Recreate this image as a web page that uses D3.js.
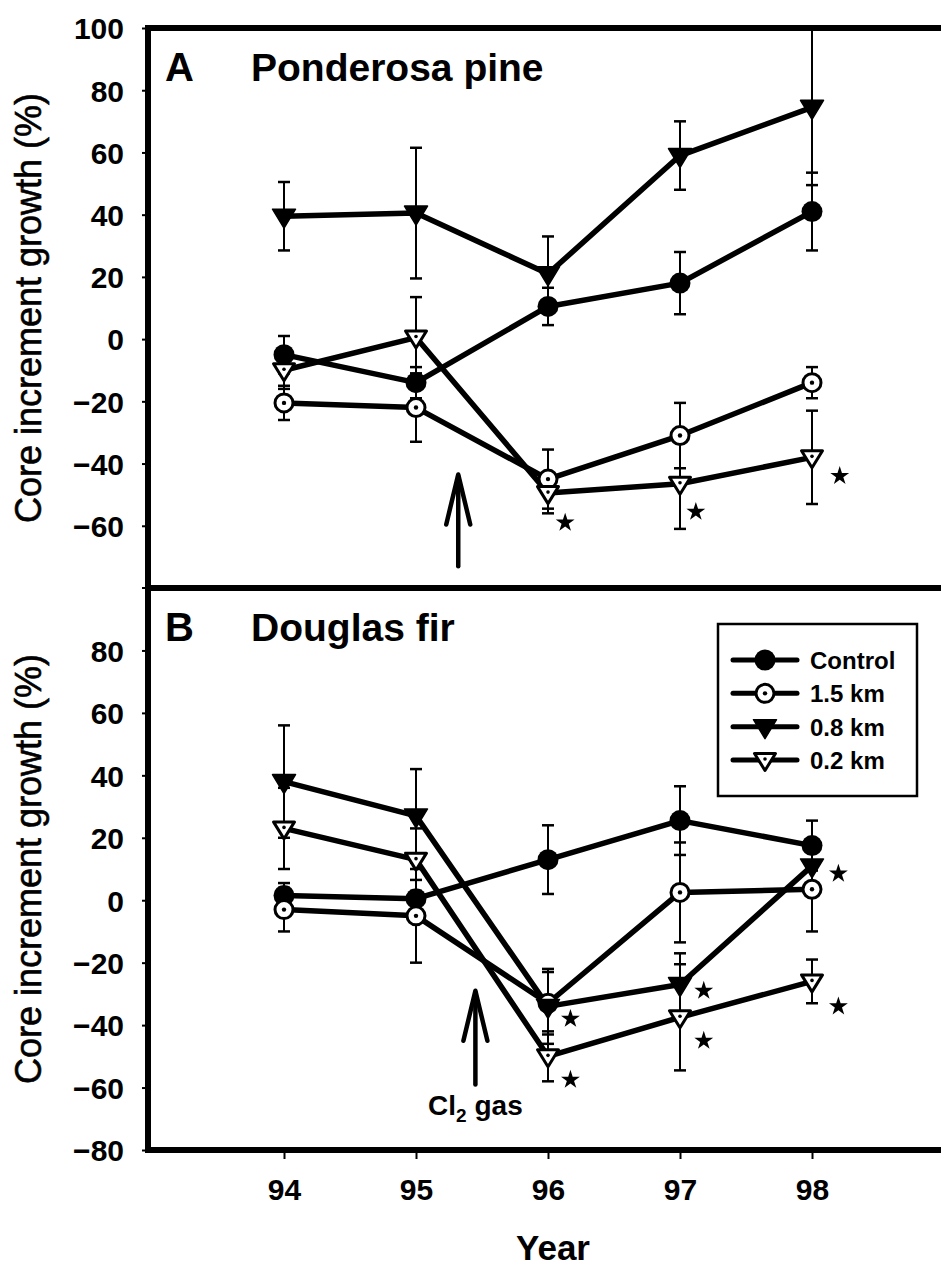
<!DOCTYPE html>
<html>
<head>
<meta charset="utf-8">
<script src="https://cdn.jsdelivr.net/npm/d3@7"></script>
<style>
  html, body { margin: 0; padding: 0; background: #fff; }
  svg { display: block; }
  text { font-family: "Liberation Sans", Arial, sans-serif; fill: #000; }
</style>
</head>
<body>
<svg id="chart" width="941" height="1271"></svg>
<script>
// ---- data ----------------------------------------------------------------
const years = [94, 95, 96, 97, 98];
const seriesNames = ["Control", "1.5 km", "0.8 km", "0.2 km"];
const yTicksA = [100, 80, 60, 40, 20, 0, -20, -40, -60];
const yTicksB = [80, 60, 40, 20, 0, -20, -40, -60, -80];

// Ponderosa pine (panel A): means and error half-widths
const pineControl    = [-5, -14, 10.5, 18, 41];
const pineControlErr = [6, 5, 6, 10, 12.5];
const pine15         = [-20.5, -22, -45, -31, -14];
const pine15Err      = [5.5, 11, 9.5, 10.5, 5];
const pine08         = [39.5, 40.5, 21, 59, 74.5];
const pine08Err      = [11, 21, 12, 11, 25];
const pine02         = [-10, 0.5, -49.5, -46.5, -38];
const pine02Err      = [6, 13, 6.5, 14.5, 15];
// significance marks (year position, value)
const pineStarYear   = [96.13, 97.12, 98.21];
const pineStarValue  = [-59, -55.5, -44];

// Douglas fir (panel B)
const firControl    = [1.5, 0.5, 13, 25.5, 17.5];
const firControlErr = [4, 6, 11, 11, 8];
const fir15         = [-3, -5, -33, 2.5, 3.5];
const fir15Err      = [7, 15, 10, 16, 13.5];
const fir08         = [38, 27, -34, -27, 11];
const fir08Err      = [18, 15, 12, 10, 8];
const fir02         = [23, 13, -50, -37.5, -26];
const fir02Err      = [13, 10, 8, 17, 7];
const firStarYear   = [96.17, 96.17, 97.18, 97.18, 98.2, 98.2];
const firStarValue  = [-38, -57.5, -29, -45, 8.5, -34];

// Cl2 release arrows: year position, value of tip and tail
const arrowYear = [95.32, 95.45];
const arrowTip  = [-43.5, -29];
const arrowTail = [-73, -59];

// ---- layout ----------------------------------------------------------------
const svg = d3.select("#chart");
const frameLeft = 148, frameRight = 946;
const x = d3.scaleLinear().domain([94, 98]).range([284, 812]);
const yA = d3.scaleLinear().domain([-80, 100]).range([588, 28]);
const yB = d3.scaleLinear().domain([-80, 100]).range([1150, 588]);

const markerTypes = ["filledCircle", "openCircle", "filledTri", "openTri"];

function drawMarker(g, type, cx, cy) {
  if (type === "filledCircle") {
    g.append("circle").attr("cx", cx).attr("cy", cy).attr("r", 10.5).attr("fill", "#000");
  } else if (type === "openCircle") {
    g.append("circle").attr("cx", cx).attr("cy", cy).attr("r", 9)
      .attr("fill", "#fff").attr("stroke", "#000").attr("stroke-width", 3);
    g.append("circle").attr("cx", cx).attr("cy", cy).attr("r", 2.2).attr("fill", "#000");
  } else if (type === "filledTri") {
    g.append("path")
      .attr("d", `M${cx - 11.5},${cy - 7}L${cx + 11.5},${cy - 7}L${cx},${cy + 12}Z`)
      .attr("fill", "#000").attr("stroke", "#000").attr("stroke-width", 1.5)
      .attr("stroke-linejoin", "round");
  } else {
    g.append("path")
      .attr("d", `M${cx - 10.5},${cy - 6.5}L${cx + 10.5},${cy - 6.5}L${cx},${cy + 10.5}Z`)
      .attr("fill", "#fff").attr("stroke", "#000").attr("stroke-width", 3)
      .attr("stroke-linejoin", "round");
    g.append("circle").attr("cx", cx).attr("cy", cy - 1).attr("r", 1.8).attr("fill", "#000");
  }
}

function drawPanel(opts) {
  const { y, series, errs, starYear, starValue, ticks, letter, title, top, bottom, showBottomTick } = opts;
  const g = svg.append("g");

  // axis ticks and labels
  const axis = d3.axisLeft(y).tickValues(ticks).tickSize(6).tickPadding(18)
    .tickFormat(d3.format("d"));
  const ag = g.append("g").attr("transform", `translate(${frameLeft},0)`).call(axis);
  ag.select(".domain").remove();
  ag.selectAll(".tick line").attr("stroke", "#000").attr("stroke-width", 2);
  ag.selectAll(".tick text").attr("font-size", 30).attr("font-weight", "bold")
    .attr("dy", "0.36em").style("font-family", '"Liberation Sans", Arial, sans-serif');
  // extra tick at the panel floor
  if (showBottomTick) {
    g.append("line").attr("x1", frameLeft - 6).attr("x2", frameLeft)
      .attr("y1", y(-80)).attr("y2", y(-80)).attr("stroke", "#000").attr("stroke-width", 2);
  }

  // series lines
  const line = d3.line().x((d, i) => x(years[i])).y(d => y(d));
  series.forEach(s => {
    g.append("path").datum(s).attr("d", line)
      .attr("fill", "none").attr("stroke", "#000").attr("stroke-width", 5.5)
      .attr("stroke-linejoin", "round");
  });

  // error bars
  series.forEach((s, k) => {
    s.forEach((v, i) => {
      const cx = x(years[i]);
      const e = errs[k][i];
      const bg = g.append("g").attr("stroke", "#000");
      bg.append("line").attr("x1", cx).attr("x2", cx)
        .attr("y1", y(v + e)).attr("y2", y(v - e)).attr("stroke-width", 2);
      [v + e, v - e].forEach(c => {
        bg.append("line").attr("x1", cx - 6).attr("x2", cx + 6)
          .attr("y1", y(c)).attr("y2", y(c)).attr("stroke-width", 2.5);
      });
    });
  });

  // markers
  series.forEach((s, k) => {
    s.forEach((v, i) => drawMarker(g, markerTypes[k], x(years[i]), y(v)));
  });

  // significance stars
  const star = d3.symbol().type(d3.symbolStar).size(110);
  starYear.forEach((sy, i) => {
    g.append("path").attr("d", star())
      .attr("transform", `translate(${x(sy)},${y(starValue[i])})`)
      .attr("fill", "#000");
  });

  // panel frame
  g.append("rect").attr("x", frameLeft).attr("y", top)
    .attr("width", frameRight - frameLeft).attr("height", bottom - top)
    .attr("fill", "none").attr("stroke", "#000").attr("stroke-width", 6);

  // panel letter and title
  g.append("text").attr("x", 165).attr("y", top + 53)
    .attr("font-size", 40).attr("font-weight", "bold").text(letter);
  g.append("text").attr("x", 251).attr("y", top + 53)
    .attr("font-size", 39).attr("font-weight", "bold").text(title);

  // y-axis title
  g.append("text")
    .attr("transform", `translate(41,${(top + bottom) / 2}) rotate(-90)`)
    .attr("text-anchor", "middle").attr("font-size", 36)
    .attr("stroke", "#000").attr("stroke-width", 0.6)
    .text("Core increment growth (%)");
  return g;
}

drawPanel({
  y: yA, series: [pineControl, pine15, pine08, pine02],
  errs: [pineControlErr, pine15Err, pine08Err, pine02Err],
  starYear: pineStarYear, starValue: pineStarValue,
  ticks: yTicksA, letter: "A", title: "Ponderosa pine",
  top: yA(100), bottom: yA(-80), showBottomTick: true
});
drawPanel({
  y: yB, series: [firControl, fir15, fir08, fir02],
  errs: [firControlErr, fir15Err, fir08Err, fir02Err],
  starYear: firStarYear, starValue: firStarValue,
  ticks: yTicksB, letter: "B", title: "Douglas fir",
  top: yB(100), bottom: yB(-80), showBottomTick: false
});

// x axis (shared, below panel B)
const xAxis = d3.axisBottom(x).tickValues(years).tickSize(6).tickPadding(20)
  .tickFormat(d3.format("d"));
const xg = svg.append("g").attr("transform", `translate(0,${yB(-80) + 3})`).call(xAxis);
xg.select(".domain").remove();
xg.selectAll(".tick line").attr("stroke", "#000").attr("stroke-width", 2);
xg.selectAll(".tick text").attr("font-size", 30).attr("font-weight", "bold")
  .style("font-family", '"Liberation Sans", Arial, sans-serif');

svg.append("text").attr("x", 553).attr("y", 1260).attr("text-anchor", "middle")
  .attr("font-size", 35).attr("font-weight", "bold").text("Year");

// Cl2 release arrows
const arrowScales = [yA, yB];
arrowYear.forEach((ay, i) => {
  const ys = arrowScales[i];
  const ax = x(ay), tipY = ys(arrowTip[i]), tailY = ys(arrowTail[i]);
  const ag = svg.append("g").attr("stroke", "#000").attr("stroke-width", 4.5)
    .attr("fill", "none").attr("stroke-linecap", "round").attr("stroke-linejoin", "round");
  ag.append("line").attr("x1", ax).attr("x2", ax).attr("y1", tipY + 2).attr("y2", tailY);
  ag.append("path").attr("d", `M${ax - 12},${tipY + 50}L${ax},${tipY}L${ax + 12},${tipY + 50}`);
});

// gas label under the panel B arrow
const gasText = svg.append("text").attr("x", x(arrowYear[1])).attr("y", 1115)
  .attr("text-anchor", "middle").attr("font-size", 28).attr("font-weight", "bold");
gasText.append("tspan").text("Cl");
gasText.append("tspan").attr("font-size", 19).attr("dy", 7).text("2");
gasText.append("tspan").attr("dy", -7).text(" gas");

// legend
const legX = 718, legY = 624, legW = 199, legH = 172;
const leg = svg.append("g");
leg.append("rect").attr("x", legX).attr("y", legY).attr("width", legW).attr("height", legH)
  .attr("fill", "#fff").attr("stroke", "#000").attr("stroke-width", 2.5);
const legRow = d3.scalePoint().domain(seriesNames).range([legY + 36, legY + 136]);
seriesNames.forEach((name, k) => {
  const ry = legRow(name);
  leg.append("line").attr("x1", legX + 15).attr("x2", legX + 79)
    .attr("y1", ry).attr("y2", ry).attr("stroke", "#000").attr("stroke-width", 5)
    .attr("stroke-linecap", "round");
  drawMarker(leg, markerTypes[k], legX + 47, ry);
  leg.append("text").attr("x", legX + 92).attr("y", ry + 9)
    .attr("font-size", 24).attr("font-weight", "bold").text(name);
});
</script>
</body>
</html>
